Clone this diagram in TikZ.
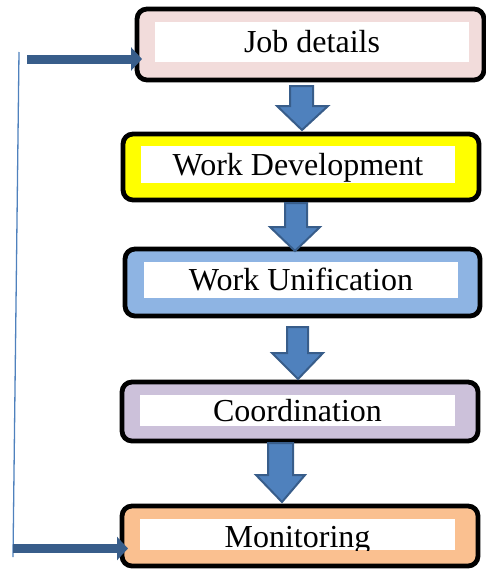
\documentclass[tikz,border=0pt]{standalone}
\usepackage{fontspec}
\setmainfont{Liberation Serif}
\usetikzlibrary{arrows.meta}
\definecolor{fillA}{HTML}{F2DCDB}
\definecolor{fillB}{HTML}{FFFF00}
\definecolor{fillC}{HTML}{8EB4E3}
\definecolor{fillD}{HTML}{CCC1DA}
\definecolor{fillE}{HTML}{FAC090}
\definecolor{arrowblue}{HTML}{4F81BD}
\definecolor{arrowdark}{HTML}{385D8A}
\newcommand\blockarr[8]{\draw[blockarrow] (#1,#3) -- (#2,#3) -- (#2,#4) -- (#6,#4) -- (#7,#8) -- (#5,#4) -- (#1,#4) -- cycle;}
\begin{document}
\begin{tikzpicture}[x=1pt,y=-1pt,
  outerbox/.style={draw=black, line width=4.8pt, rounded corners=10pt, outer sep=0pt, inner sep=0pt},
  innerbox/.style={fill=white, inner sep=0pt, outer sep=0pt},
  lbl/.style={font=\fontsize{32}{32}\selectfont, text height=21pt, text depth=0pt, inner sep=0pt},
  blockarrow/.style={fill=arrowblue, draw=arrowdark, line width=2pt, line join=miter},
  fbline/.style={draw=arrowblue, line width=1.3pt},
  fbarrow/.style={draw=arrowdark, line width=9pt, -{Triangle[length=11pt,width=23pt]}}]
\useasboundingbox (0,0) rectangle (486,570);
% outer boxes
\node[outerbox, fill=fillA, minimum width=347pt, minimum height=71pt] (b1) at (310.5,44.5) {};
\node[outerbox, fill=fillB, minimum width=356pt, minimum height=66pt] (b2) at (301,167) {};
\node[outerbox, fill=fillC, minimum width=355pt, minimum height=67pt] (b3) at (302.5,282.5) {};
\node[outerbox, fill=fillD, minimum width=356pt, minimum height=59pt] (b4) at (300,411.5) {};
\node[outerbox, fill=fillE, minimum width=356pt, minimum height=60pt] (b5) at (300,536) {};
% inner white labels
\node[innerbox, lbl, minimum width=314pt, minimum height=40pt] (t1) at (312,42) {Job details};
\node[innerbox, lbl, minimum width=314pt, minimum height=37pt] (t2) at (298,164.5) {Work Development};
\node[innerbox, lbl, minimum width=314pt, minimum height=36pt] (t3) at (301,280) {Work Unification};
\node[innerbox, lbl, minimum width=315pt, minimum height=31pt] (t4) at (297.5,410.5) {Coordination};
\node[innerbox, minimum width=315pt, minimum height=31pt,
  path picture={\node[lbl, yshift=-2pt] at (path picture bounding box.center) {Monitoring};}] (t5) at (297.5,534.5) {};
% block arrows between boxes
\blockarr{290}{313}{86}{106}{277}{328}{302}{130}
\blockarr{285}{307}{203}{227}{270}{320}{295}{251}
\blockarr{287}{308}{327}{353}{272}{323}{298}{379}
\blockarr{268}{293}{443}{475}{256}{305}{282}{502}
% feedback line
\coordinate (ftop) at (19,52);
\coordinate (fbot) at (13,557);
\coordinate (fa) at (27,59);
\coordinate (fb) at (13,548.5);
\draw[fbline] (ftop) -- (fbot);
\draw[fbarrow] (fa) -- ([xshift=5pt]fa -| b1.west);
\draw[fbarrow] (fb) -- ([xshift=6pt]fb -| b5.west);
\end{tikzpicture}
\end{document}
